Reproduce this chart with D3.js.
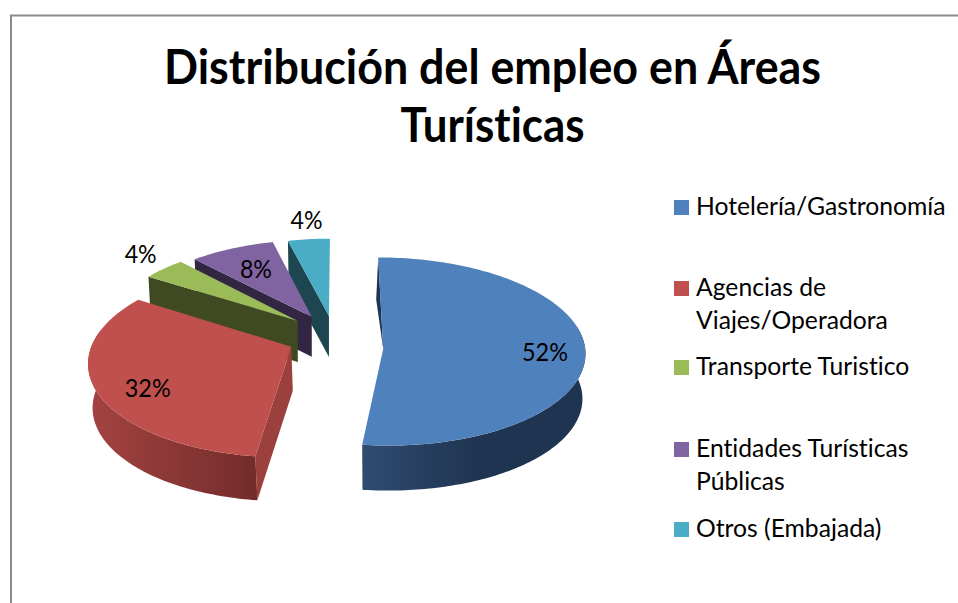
<!DOCTYPE html>
<html><head><meta charset="utf-8">
<script src="https://cdn.jsdelivr.net/npm/d3@7/dist/d3.min.js"></script>
<style>html,body{margin:0;padding:0;background:#fff}svg{display:block}text{font-family:Lato,"Noto Sans",sans-serif;fill:#000;font-variant-ligatures:none}</style>
</head><body><svg id="c" width="958" height="603"></svg>
<script>
const titleLines = ["Distribución del empleo en Áreas", "Turísticas"];
const categories = ["Hotelería/Gastronomía", "Agencias de Viajes/Operadora", "Transporte Turistico", "Entidades Turísticas Públicas", "Otros (Embajada)"];
const legendLines = [["Hotelería/Gastronomía"], ["Agencias de", "Viajes/Operadora"], ["Transporte Turistico"], ["Entidades Turísticas", "Públicas"], ["Otros (Embajada)"]];
const values = [52, 32, 4, 8, 4];
const colors = ["#4f81bd", "#c0504d", "#9bbb59", "#8064a2", "#4bacc6"];
const wallColors = ["#1f3450", "#9c403e", "#3f4a23", "#332643", "#1d4651"];

// Layout: how each exploded wedge is foreshortened, and where its label sits
const lensA = [202, 200, 190, 187.8, 185];
const lensB = [94, 94.5, 87, 84.5, 85];
const lensP = [0.026, 0.146, 0.1, 0.1, 0.1];
const lensS = [-5, 6.7, 5.5, 3.75, 1];
const depth = [45, 44, 41, 40, 41];
const labelR = [0.8, 0.78, 1.24, 0.68, 1.27];
const labelDeg = [92.4, 238, 312, 331.2, 353.5];
const legendY = [215, 296, 375, 457, 537];
const legendLH = 32.5;
const titleWidths = [657, 184];
const labelFont = 25, labelWidth = [46, 46, 32, 32, 32];

const svg = d3.select("#c");
const defs = svg.append("defs");
const color = d3.scaleOrdinal().domain(categories).range(colors);
const pie = d3.pie().sort(null).startAngle(0).endAngle(2 * Math.PI);
const arcs = pie(values);
const line = d3.line();
const center = [335, 341.5], explode = [48.3, 6, 25];

// frame
svg.append("path").attr("d", "M11,603V15.5H958").attr("fill", "none").attr("stroke", "#8a8a8a").attr("stroke-width", 2);

function projector(i, d) {
  const phi = (d.startAngle + d.endAngle) / 2;
  const ax = center[0] + explode[0] * Math.sin(phi);
  const ay = center[1] + explode[1] * Math.sin(phi) - explode[2] * Math.cos(phi);
  const p = (t, r = 1) => {
    const k = 1 / (1 + lensP[i] * r * Math.cos(t));
    return [ax + r * (lensA[i] * Math.sin(t) * k + lensS[i] * Math.cos(t)),
            ay - r * lensB[i] * Math.cos(t) * k];
  };
  return { p, apex: [ax, ay] };
}
const down = (pt, i, apex) => [pt[0] - 0.015 * (pt[0] - apex[0]) + (i === 1 ? 1.5 : 0), pt[1] + depth[i]];

function gradient(id, x1, x2, stops) {
  const g = defs.append("linearGradient").attr("id", id).attr("gradientUnits", "userSpaceOnUse")
    .attr("x1", x1).attr("x2", x2).attr("y1", 0).attr("y2", 0);
  stops.forEach(s => g.append("stop").attr("offset", s[0]).attr("stop-color", s[1]));
}
gradient("wallBlue", 364, 480, [[0, "#2f4c70"], [1, "#1f3450"]]);
gradient("wallRed", 88, 258, [[0, "#a44341"], [1, "#722c2b"]]);

const order = [4, 3, 2, 1, 0];
const g = svg.append("g");
order.forEach(i => {
  const d = arcs[i];
  const { p, apex } = projector(i, d);
  const a0 = d.startAngle, a1 = d.endAngle;
  const s = p(a0);

  // straight wall on the wedge's leading edge
  if (i === 0) {
    const b = [s[0] - 2, s[1] + depth[i] - 3];
    g.append("path").attr("d", line([s, apex, b]) + "Z").attr("fill", wallColors[i]);
  } else {
    g.append("path").attr("d", line([s, apex, down(apex, i, apex), down(s, i, apex)]) + "Z").attr("fill", wallColors[i]);
  }
  // curved front wall
  if (i < 2) {
    const range = i === 0 ? [Math.PI * 0.42, a1] : [a0, Math.PI * 1.56];
    const ts = d3.range(range[0], range[1], 0.02).concat([range[1]]);
    const top = ts.map(t => p(t));
    const bot = ts.map(t => down(p(t), i, apex)).reverse();
    g.append("path").attr("d", line(top.concat(bot)) + "Z").attr("fill", i === 0 ? "url(#wallBlue)" : "url(#wallRed)");
  }
  // top surface
  const ts = d3.range(a0, a1, 0.02).concat([a1]);
  g.append("path").attr("d", line([apex].concat(ts.map(t => p(t)))) + "Z").attr("fill", color(categories[i]));
});

// data labels
const total = d3.sum(values);
const fmt = d3.format(".0%");
const labels = svg.append("g").attr("font-size", labelFont).attr("text-anchor", "middle");
arcs.forEach((d, i) => {
  const { p } = projector(i, d);
  const [x, y] = p(labelDeg[i] * Math.PI / 180, labelR[i]);
  labels.append("text").attr("x", x).attr("y", y).attr("dy", "0.35em")
    .attr("textLength", labelWidth[i]).attr("lengthAdjust", "spacingAndGlyphs").text(fmt(values[i] / total));
});

// title
const title = svg.append("g").attr("font-size", 47).attr("font-weight", 700).attr("text-anchor", "middle");
titleLines.forEach((t, i) => title.append("text").attr("x", 492.5).attr("y", 84 + i * 58)
  .attr("textLength", titleWidths[i]).attr("lengthAdjust", "spacingAndGlyphs").text(t));

// legend
const legend = svg.append("g").attr("font-size", 24.7);
categories.forEach((c, i) => {
  legend.append("rect").attr("x", 674).attr("y", legendY[i] - 15).attr("width", 15).attr("height", 15).attr("fill", color(c));
  legendLines[i].forEach((l, j) => legend.append("text").attr("x", 696).attr("y", legendY[i] + j * legendLH).text(l));
});
</script></body></html>
